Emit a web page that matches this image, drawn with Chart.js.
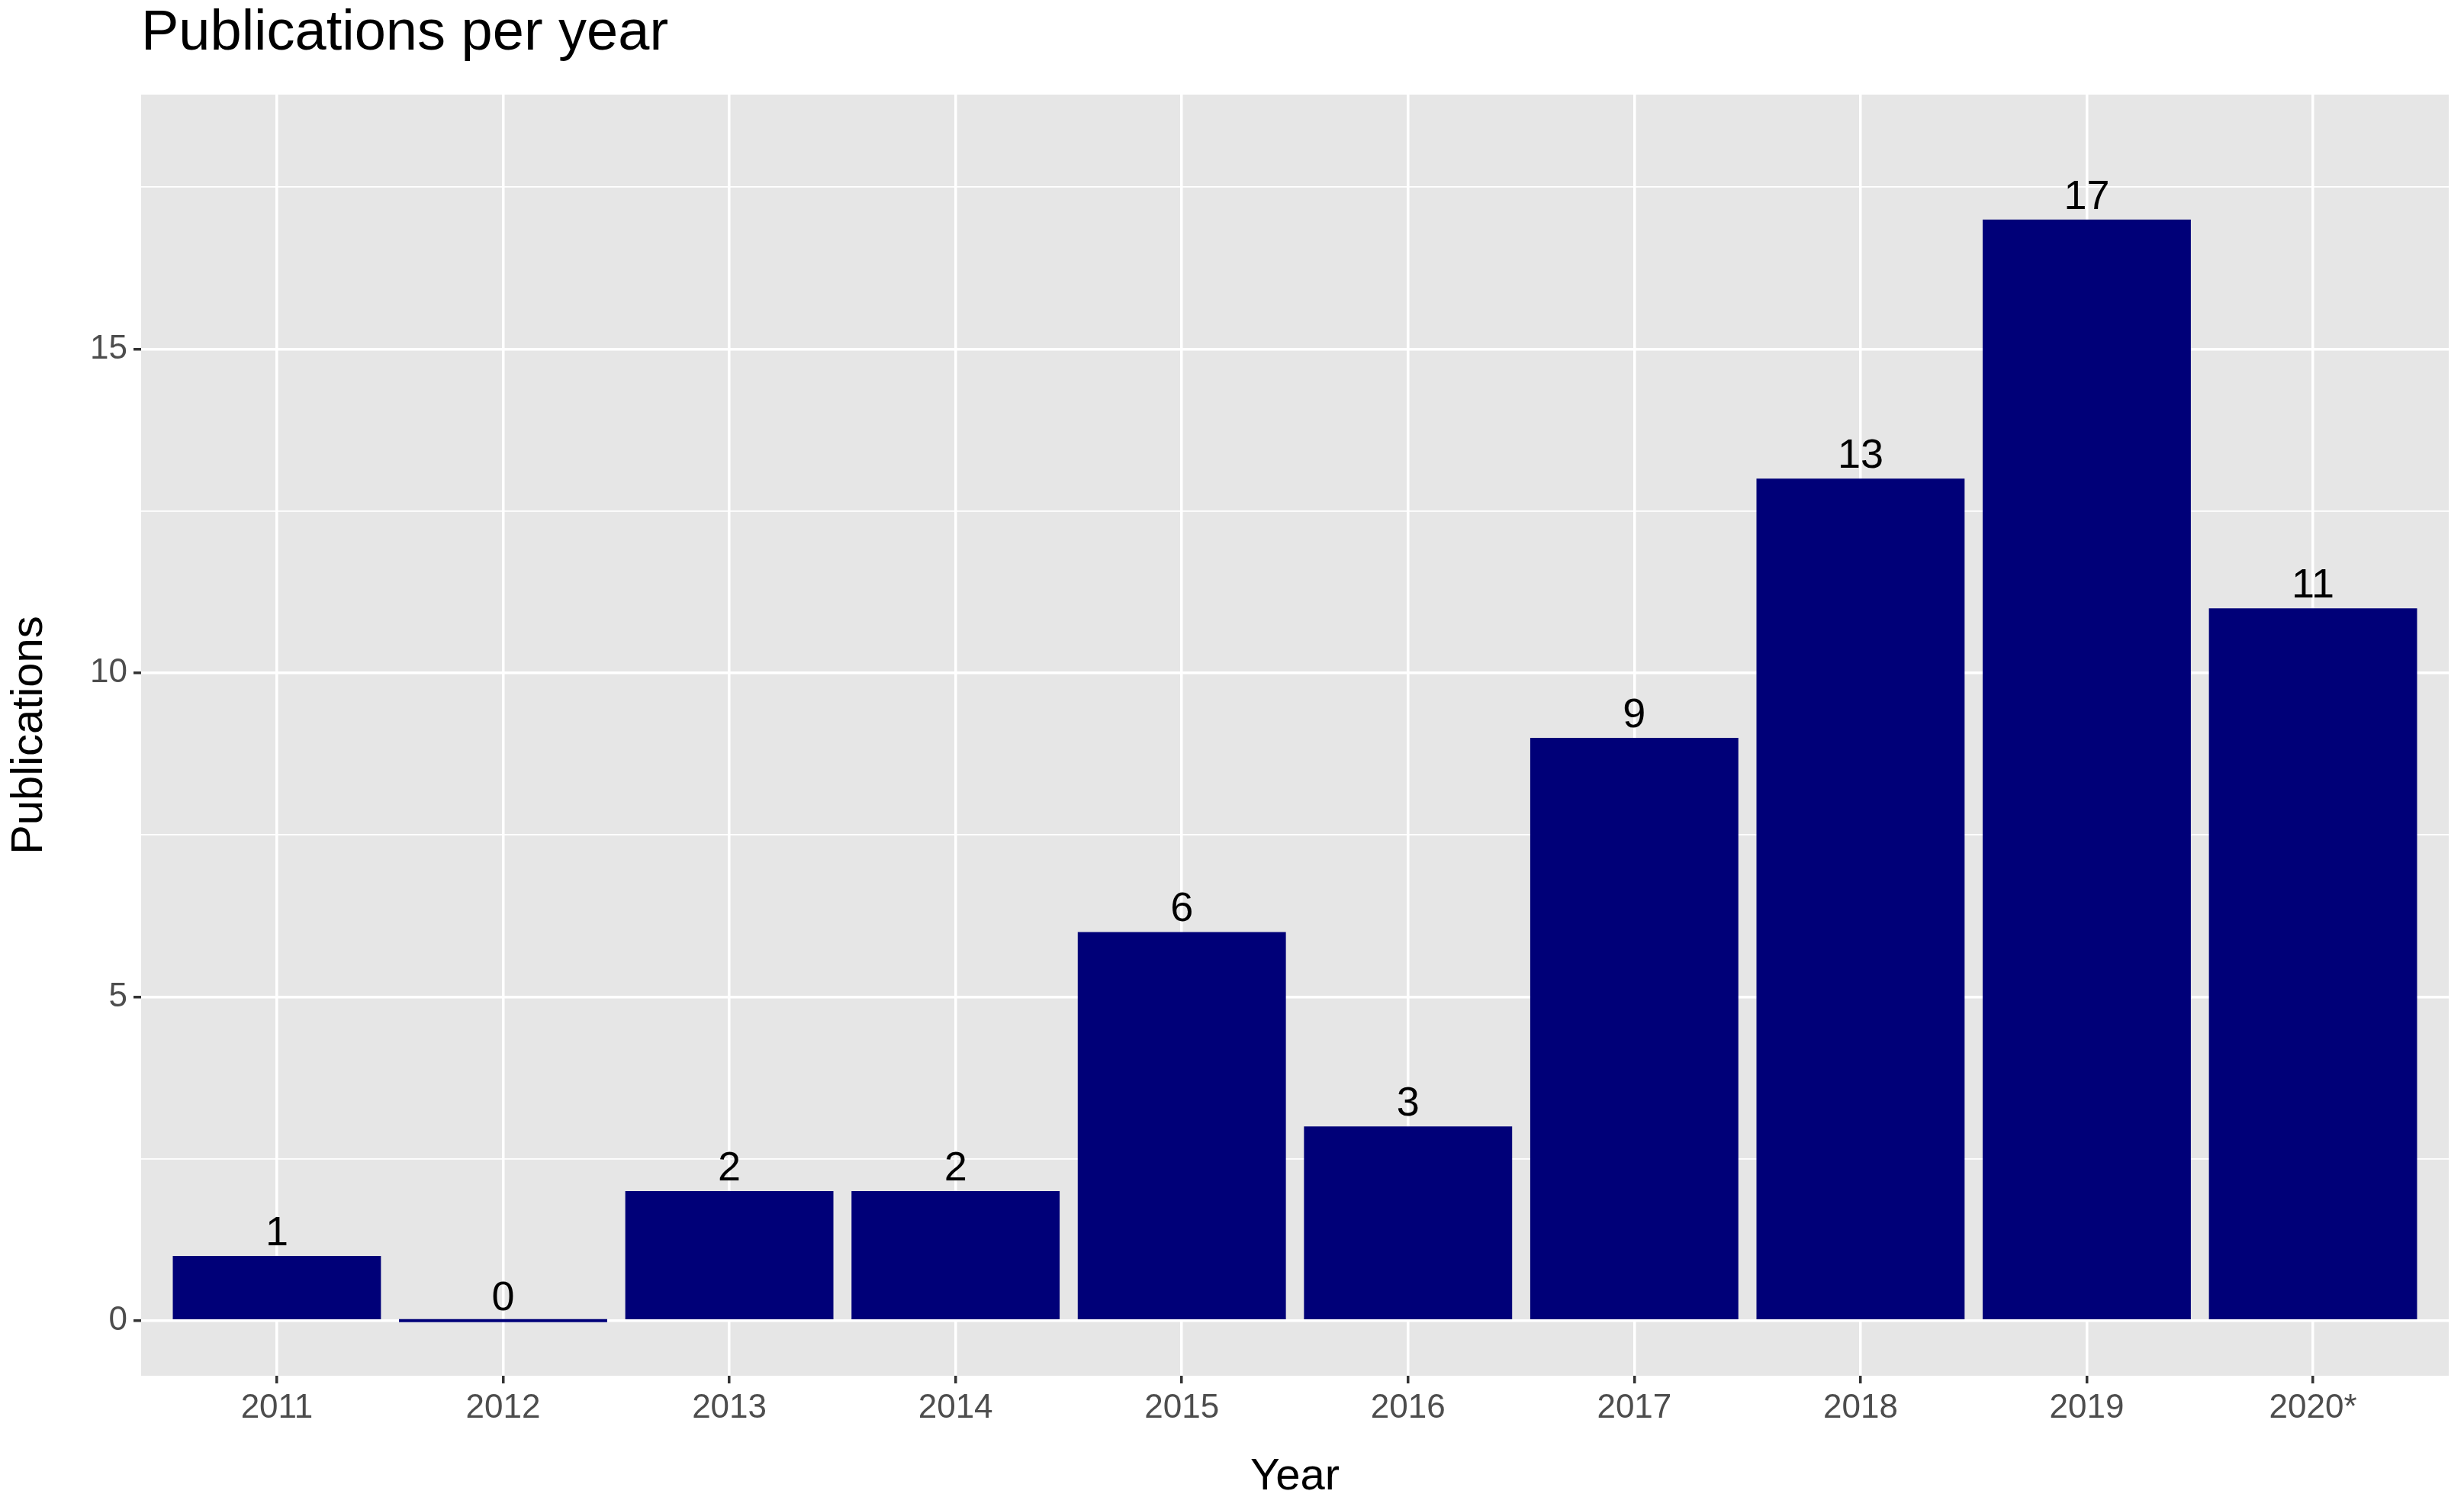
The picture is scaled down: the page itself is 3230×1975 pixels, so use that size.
<!DOCTYPE html>
<html>
<head>
<meta charset="utf-8">
<script src="https://cdn.jsdelivr.net/npm/chart.js@4"></script>
<style>
  body { margin: 0; background: #fff; }
  canvas { display: block; }
</style>
</head>
<body>
<canvas id="chart" width="3230" height="1975"></canvas>
<script>
const years = ['2011', '2012', '2013', '2014', '2015', '2016', '2017', '2018', '2019', '2020*'];
const publications = [1, 0, 2, 2, 6, 3, 9, 13, 17, 11];
const yTicks = [0, 2.5, 5, 7.5, 10, 12.5, 15, 17.5];

const font = 'Liberation Sans, Arial, sans-serif';

// value labels above each bar, plus the title in the top-left
const labelPlugin = {
  id: 'labels',
  afterDatasetsDraw(chart) {
    const ctx = chart.ctx;
    const meta = chart.getDatasetMeta(0);
    ctx.save();
    ctx.fillStyle = '#000';
    ctx.font = '54px ' + font;
    ctx.textAlign = 'center';
    ctx.textBaseline = 'bottom';
    meta.data.forEach((bar, i) => {
      const y = chart.scales.y.getPixelForValue(publications[i]);
      ctx.fillText(String(publications[i]), bar.x, y - 2);
    });
    ctx.font = '74px ' + font;
    ctx.textAlign = 'left';
    ctx.textBaseline = 'middle';
    ctx.fillText('Publications per year', 185, 45);
    ctx.restore();
  },
  beforeDraw(chart) {
    const a = chart.chartArea;
    chart.ctx.fillStyle = '#e6e6e6';
    chart.ctx.fillRect(a.left, a.top, a.right - a.left, a.bottom - a.top);
  }
};

new Chart(document.getElementById('chart'), {
  type: 'bar',
  data: {
    datasets: [{
      data: publications.map((v, i) => ({ x: i + 1, y: v })),
      backgroundColor: '#000078',
      barPercentage: 0.92,
      categoryPercentage: 1,
      minBarLength: 4
    }]
  },
  options: {
    responsive: false,
    devicePixelRatio: 1,
    animation: false,
    layout: { padding: { top: 124, right: 20, left: 0, bottom: 0 } },
    plugins: { legend: { display: false }, tooltip: { enabled: false } },
    scales: {
      x: {
        type: 'linear',
        offset: false,
        min: 0.4,
        max: 10.6,
        afterBuildTicks: s => { s.ticks = years.map((_, i) => ({ value: i + 1 })); },
        afterFit: s => { s.height = 172; },
        ticks: {
          callback: v => years[v - 1],
          color: '#4d4d4d',
          font: { size: 44, family: font },
          padding: 6
        },
        grid: { offset: false, color: '#ffffff', lineWidth: 3.5, tickColor: '#333', tickLength: 10 },
        border: { display: false },
        title: {
          display: true, text: 'Year', color: '#000',
          font: { size: 58, family: font }, padding: { top: 2 }
        }
      },
      y: {
        min: -0.85,
        max: 18.93,
        afterBuildTicks: s => { s.ticks = yTicks.map(v => ({ value: v })); },
        afterFit: s => { s.width = 185; },
        ticks: {
          callback: v => (v % 5 === 0 ? String(v) : ''),
          color: '#4d4d4d',
          font: { size: 44, family: font },
          padding: 8
        },
        grid: {
          color: '#ffffff',
          lineWidth: c => (c.tick && c.tick.value % 5 === 0 ? 3.5 : 1.8),
          tickColor: c => (c.tick && c.tick.value % 5 === 0 ? '#333' : 'rgba(0,0,0,0)'),
          tickLength: 10
        },
        border: { display: false },
        title: {
          display: true, text: 'Publications', color: '#000',
          font: { size: 58, family: font }, padding: { bottom: 8 }
        }
      }
    }
  },
  plugins: [labelPlugin]
});
</script>
</body>
</html>
